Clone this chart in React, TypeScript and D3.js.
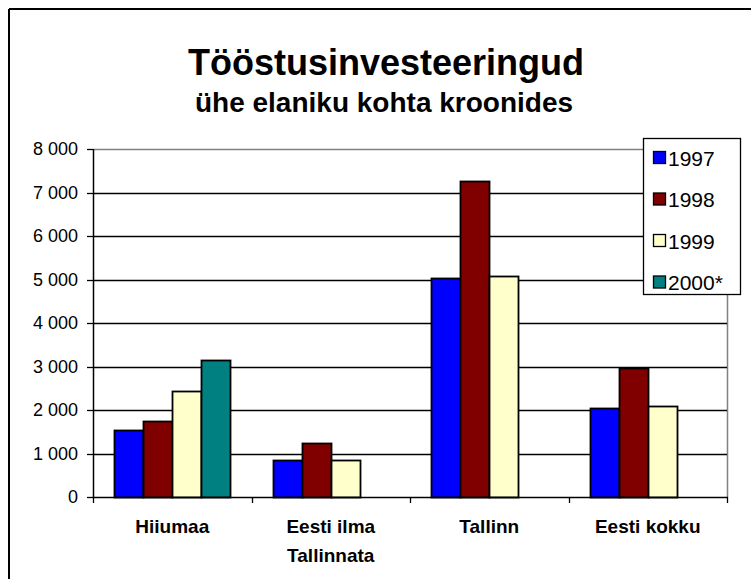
import React from "react";
import * as d3 from "d3";

const categories: string[][] = [["Hiiumaa"], ["Eesti ilma", "Tallinnata"], ["Tallinn"], ["Eesti kokku"]];
const seriesNames = ["1997", "1998", "1999", "2000*"];
const v1997 = [1540, 850, 5040, 2050];
const v1998 = [1755, 1235, 7265, 2975];
const v1999 = [2430, 840, 5080, 2090];
const v2000 = [3160, null, null, null];
const seriesValues: (number | null)[][] = [v1997, v1998, v1999, v2000];
const seriesColors = ["#0000FF", "#800000", "#FFFFCC", "#008080"];
const yTicks = [0, 1000, 2000, 3000, 4000, 5000, 6000, 7000, 8000];
const title = "Tööstusinvesteeringud";
const subtitle = "ühe elaniku kohta kroonides";

const FONT = "'Liberation Sans', Arial, Helvetica, sans-serif";

export default function App() {
  const W = 751, H = 579;
  const left = 93, right = 727, top = 149, bottom = 497;
  const y = d3.scaleLinear().domain([0, 8000]).range([bottom, top]);
  const catKeys = categories.map((c) => c.join(" "));
  const x0 = d3.scaleBand().domain(catKeys).range([left, right]).paddingInner(0).paddingOuter(0);
  const bw = x0.bandwidth();
  const groupW = bw / 1.37;
  const off = (bw - groupW) / 2;
  const x1 = d3.scaleBand().domain(seriesNames).range([off, off + groupW]).padding(0);
  const fmt = (v: number) => d3.format(",")(v).replace(/,/g, " ");

  const legendX = 643, legendY = 138, legendW = 97, legendH = 156;
  const rowH = 41.5;

  return (
    <svg width={W} height={H} style={{ position: "absolute", left: 0, top: 0, background: "#fff" }} fontFamily={FONT}>
      <rect x={0} y={0} width={W} height={H} fill="#fff" />
      {/* outer frame */}
      <line x1={9} y1={9} x2={W} y2={9} stroke="#000" strokeWidth={2} />
      <line x1={9} y1={9} x2={9} y2={H} stroke="#000" strokeWidth={2} />

      <text x={386} y={75} textAnchor="middle" fontSize={36} fontWeight="bold" fill="#000">{title}</text>
      <text x={384} y={112} textAnchor="middle" fontSize={28} fontWeight="bold" fill="#000">{subtitle}</text>

      {/* plot area border (grey) */}
      <line x1={left} y1={y(8000) + 0.5} x2={right} y2={y(8000) + 0.5} stroke="#808080" strokeWidth={1.5} />
      <line x1={right + 0.5} y1={top} x2={right + 0.5} y2={bottom} stroke="#808080" strokeWidth={1.5} />

      {/* gridlines */}
      {yTicks.filter((t) => t > 0 && t < 8000).map((t) => (
        <line key={t} x1={left} x2={right} y1={Math.round(y(t)) + 0.5} y2={Math.round(y(t)) + 0.5} stroke="#000" strokeWidth={1.3} />
      ))}

      {/* bars */}
      {seriesValues.map((vals, si) =>
        vals.map((v, ci) =>
          v == null ? null : (
            <rect key={si + "-" + ci}
              x={Math.round((x0(catKeys[ci]) as number) + (x1(seriesNames[si]) as number)) + 0.5}
              y={Math.round(y(v)) + 0.5}
              width={Math.round(x1.bandwidth())}
              height={Math.round(y(0)) - Math.round(y(v))}
              fill={seriesColors[si]} stroke="#000" strokeWidth={1.8} />
          )
        )
      )}

      {/* y axis */}
      <line x1={left + 0.5} x2={left + 0.5} y1={top} y2={bottom + 1} stroke="#000" strokeWidth={1.5} />
      {yTicks.map((t) => (
        <g key={t}>
          <line x1={left - 6} x2={left} y1={Math.round(y(t)) + 0.5} y2={Math.round(y(t)) + 0.5} stroke="#000" strokeWidth={1.3} />
          <text x={78} y={y(t)} dy="0.35em" textAnchor="end" fontSize={18} fill="#000">{fmt(t)}</text>
        </g>
      ))}

      {/* x axis */}
      <line x1={left} x2={right + 1} y1={bottom + 0.5} y2={bottom + 0.5} stroke="#000" strokeWidth={1.5} />
      {[...catKeys.map((k) => x0(k) as number), right].map((xx, i) => (
        <line key={i} x1={Math.round(xx) + 0.5} x2={Math.round(xx) + 0.5} y1={bottom} y2={bottom + 6} stroke="#000" strokeWidth={1.3} />
      ))}
      {categories.map((lines, ci) => (
        <text key={ci} x={(x0(catKeys[ci]) as number) + bw / 2} y={533} textAnchor="middle" fontSize={19} fontWeight="bold" fill="#000">
          {lines.map((ln, li) => (
            <tspan key={li} x={(x0(catKeys[ci]) as number) + bw / 2} dy={li === 0 ? 0 : 29}>{ln}</tspan>
          ))}
        </text>
      ))}

      {/* legend */}
      <rect x={legendX + 0.5} y={legendY + 0.5} width={legendW} height={legendH} fill="#fff" stroke="#000" strokeWidth={1.3} />
      {seriesNames.map((s, i) => {
        const cy = legendY + 20 + i * rowH;
        return (
          <g key={s}>
            <rect x={legendX + 10.5} y={cy - 6.5} width={12} height={12} fill={seriesColors[i]} stroke="#000" strokeWidth={1.3} />
            <text x={legendX + 25} y={cy} dy="0.36em" fontSize={21} fill="#000">{s}</text>
          </g>
        );
      })}
    </svg>
  );
}
